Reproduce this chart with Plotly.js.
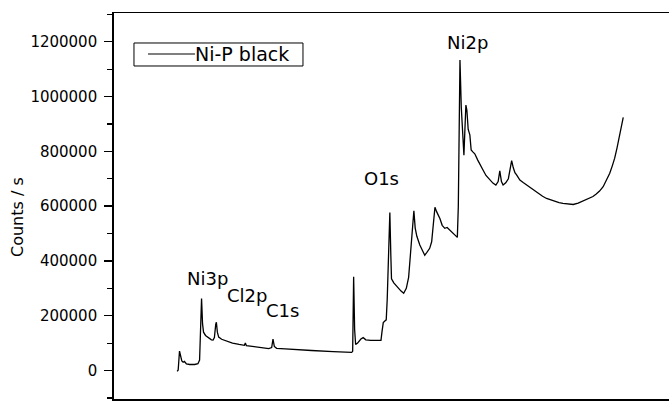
<!DOCTYPE html>
<html>
<head>
<meta charset="utf-8">
<script src="https://cdn.plot.ly/plotly-3.0.1.min.js"></script>
<style>
  html, body { margin: 0; padding: 0; background: #fff; }
  #chart { width: 669px; height: 401px; }
</style>
</head>
<body>
<div id="chart"></div>
<script>
// XPS survey spectrum of Ni-P black: binding energy (eV) vs counts per second
const bindingEnergy = [
  -8, -5, -1, 2, 6, 10, 14, 20, 30, 45, 55, 60, 63, 66, 69, 72, 78, 88, 96, 101,
  105, 109, 111, 114, 118, 127, 140, 160, 180, 196, 199, 202, 220, 243, 260, 270,
  279, 283, 287, 294, 320, 365, 400, 466, 510, 522, 525, 528, 531, 534, 540, 550,
  557, 565, 580, 600, 611, 614, 618, 622, 627, 630, 634, 638, 641, 643, 650, 660,
  672, 680, 688, 695, 700, 704, 711, 715, 720, 729, 737, 744, 750, 759, 765, 770,
  775, 780, 790, 797, 805, 812, 820, 830, 838, 843, 846, 849, 851, 855, 859, 863,
  866, 869, 872, 876, 881, 885, 890, 896, 905, 913, 921, 930, 942, 951, 960, 967,
  972, 977, 982, 990, 998, 1004, 1008, 1013, 1018, 1023, 1028, 1033, 1043, 1053,
  1063, 1076, 1090, 1102, 1114, 1127, 1140, 1152, 1164, 1180, 1195, 1210, 1225,
  1240, 1255, 1265, 1275, 1286, 1296, 1306, 1314, 1321, 1328, 1334, 1340, 1347
];
const countsPerSecond = [
  -3000, 2000, 71000, 50000, 35000, 30000, 33000, 24000, 22000, 22000, 25000, 38000, 150000, 263000, 170000, 140000, 128000, 118000, 112000, 111000,
  120000, 168000, 176000, 140000, 122000, 114000, 108000, 100000, 95000, 92000, 100000, 91000, 88000, 85000, 83000, 80000,
  84000, 115000, 88000, 81000, 79000, 77000, 73000, 69000, 66000, 66000, 70000, 342000, 150000, 95000, 100000, 115000,
  120000, 112000, 110000, 109000, 110000, 140000, 175000, 180000, 185000, 260000, 430000, 577000, 420000, 335000, 320000, 305000,
  290000, 282000, 300000, 340000, 420000, 480000, 583000, 520000, 490000, 458000, 440000, 421000, 430000, 446000, 470000, 550000,
  596000, 580000, 555000, 530000, 519000, 522000, 513000, 500000, 490000, 486000, 600000, 1000000, 1133000, 960000, 867000, 786000,
  880000, 969000, 950000, 880000, 860000, 805000, 798000, 791000, 768000, 748000, 732000, 712000, 695000, 684000, 677000, 690000,
  729000, 690000, 677000, 685000, 700000, 750000, 766000, 740000, 722000, 714000, 705000, 695000, 686000, 677000,
  669000, 657000, 645000, 636000, 628000, 622000, 617000, 613000, 610000, 607000, 606000, 611000, 619000,
  626000, 635000, 644000, 655000, 671000, 693000, 720000, 748000, 775000, 812000, 848000, 885000, 924000
];

// Peak assignments: label text and where it sits (eV, counts/s)
const peakLabels = ["Ni3p", "Cl2p", "C1s", "O1s", "Ni2p"];
const peakLabelEnergy = [83, 204, 313, 614, 875];
const peakLabelCounts = [337000, 275000, 220000, 702000, 1199000];

const seriesName = "Ni-P black";
const yTitle = "Counts / s";

const FONT = "DejaVu Sans, Arial, sans-serif";

const annotations = peakLabels.map((t, i) => ({
  text: t,
  x: peakLabelEnergy[i],
  y: peakLabelCounts[i],
  xref: "x", yref: "y",
  showarrow: false,
  xanchor: "center", yanchor: "middle",
  font: { family: FONT, size: 18, color: "#000" }
}));

// y-axis title
annotations.push({
  text: yTitle,
  xref: "paper", yref: "paper",
  x: 0, y: 0.4715,
  xshift: -97,
  textangle: -90,
  showarrow: false,
  xanchor: "center", yanchor: "middle",
  font: { family: FONT, size: 16, color: "#000" }
});

// Boxed key: framed line sample followed by the series name
const keyBox = { x0: 0.036, x1: 0.3405, y0: 0.8627, y1: 0.9223 };
const keyLine = { x0: 0.0613, x1: 0.1459, y: 0.8938 };

annotations.push({
  text: seriesName,
  xref: "paper", yref: "paper",
  x: keyLine.x1, y: keyLine.y,
  xanchor: "left", yanchor: "middle",
  xshift: -2,
  showarrow: false,
  font: { family: FONT, size: 19, color: "#000" }
});

const shapes = [
  {
    type: "rect", xref: "paper", yref: "paper",
    x0: keyBox.x0, x1: keyBox.x1, y0: keyBox.y0, y1: keyBox.y1,
    line: { color: "#000", width: 1 }, fillcolor: "rgba(0,0,0,0)"
  },
  {
    type: "line", xref: "paper", yref: "paper",
    x0: keyLine.x0, x1: keyLine.x1, y0: keyLine.y, y1: keyLine.y,
    line: { color: "#000", width: 1.2 }
  }
];

const trace = {
  x: bindingEnergy,
  y: countsPerSecond,
  type: "scatter",
  mode: "lines",
  name: seriesName,
  line: { color: "#000", width: 1.3 },
  showlegend: false
};

const layout = {
  width: 669,
  height: 401,
  margin: { l: 114, r: 0, t: 13, b: 2, pad: 0 },
  paper_bgcolor: "#fff",
  plot_bgcolor: "#fff",
  font: { family: FONT, color: "#000" },
  showlegend: false,
  xaxis: {
    range: [-200, 1486],
    showgrid: false, zeroline: false,
    showline: true, linecolor: "#000", linewidth: 1.5,
    mirror: true,
    ticks: "outside", ticklen: 6, tickwidth: 1.2, tickcolor: "#000",
    tick0: 0, dtick: 100,
    showticklabels: false
  },
  yaxis: {
    range: [-104000, 1305000],
    showgrid: false, zeroline: false,
    showline: true, linecolor: "#000", linewidth: 1.8,
    ticks: "outside", ticklen: 8, tickwidth: 1.3, tickcolor: "#000",
    tick0: 0, dtick: 200000,
    tickformat: "d",
    ticklabelstandoff: 4,
    tickfont: { family: FONT, size: 15, color: "#000" },
    minor: { ticks: "outside", ticklen: 5, tickwidth: 1.2, tickcolor: "#000", dtick: 100000, showgrid: false }
  },
  shapes: shapes,
  annotations: annotations
};

Plotly.newPlot("chart", [trace], layout, { displayModeBar: false, staticPlot: true });
</script>
</body>
</html>
